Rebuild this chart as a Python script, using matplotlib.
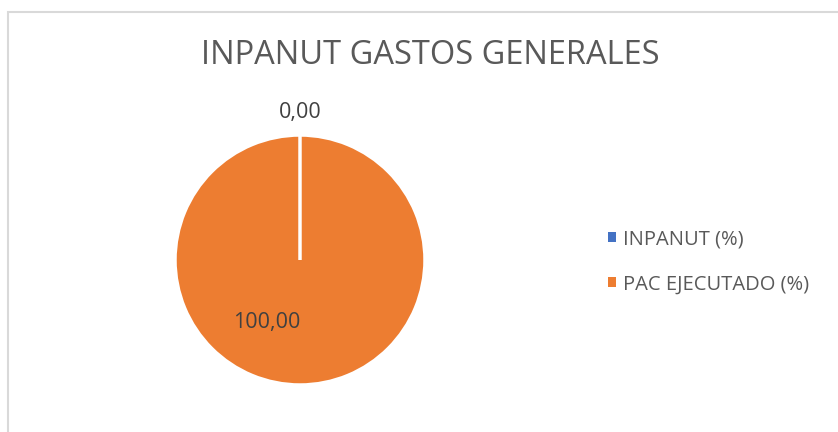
import matplotlib.pyplot as plt
from matplotlib.patches import Patch, Rectangle

categories = ['INPANUT (%)', 'PAC EJECUTADO (%)']
values = [0.0, 100.0]
value_labels = ['0,00', '100,00']
colors = ['#4472C4', '#ED7D31']
title = 'INPANUT GASTOS GENERALES'

plt.rcParams['font.family'] = ['Open Sans', 'DejaVu Sans']

fig = plt.figure(figsize=(8.38, 4.32), dpi=100)
fig.patch.set_facecolor('white')

# chart area border (runs off the right and bottom edges)
fig.add_artist(Rectangle((8 / 838, -0.1), 1.2, (432 - 12) / 432 + 0.1,
                         transform=fig.transFigure, fill=False,
                         edgecolor='#D9D9D9', linewidth=1.5))

fig.text(430 / 838, 1 - 55 / 432, title, ha='center', va='center',
         fontsize=23.5, color='#595959')

ax = fig.add_axes([(300 - 125) / 838, (432 - 260 - 125) / 432, 250 / 838, 250 / 432])
wedges, _ = ax.pie(values, colors=colors, startangle=90, counterclock=False,
                   wedgeprops=dict(edgecolor='white', linewidth=2.5))
wedges[0].set_zorder(3)
ax.set_xlim(-1, 1)
ax.set_ylim(-1, 1)
ax.set_aspect('equal')
ax.axis('off')

ax.text(0, 1.18, value_labels[0], ha='center', va='center', fontsize=15.5, color='#404040')
ax.text(-0.27, -0.5, value_labels[1], ha='center', va='center', fontsize=15.5, color='#404040')

handles = [Patch(facecolor=c, edgecolor='none') for c in colors]
fig.legend(handles, categories, loc='center left', bbox_to_anchor=(590 / 838, 1 - 262 / 432),
           frameon=False, fontsize=14.5, labelcolor='#595959', handlelength=0.4,
           handleheight=0.4, handletextpad=0.35, labelspacing=1.25)

fig.savefig('out.png', dpi=100)
